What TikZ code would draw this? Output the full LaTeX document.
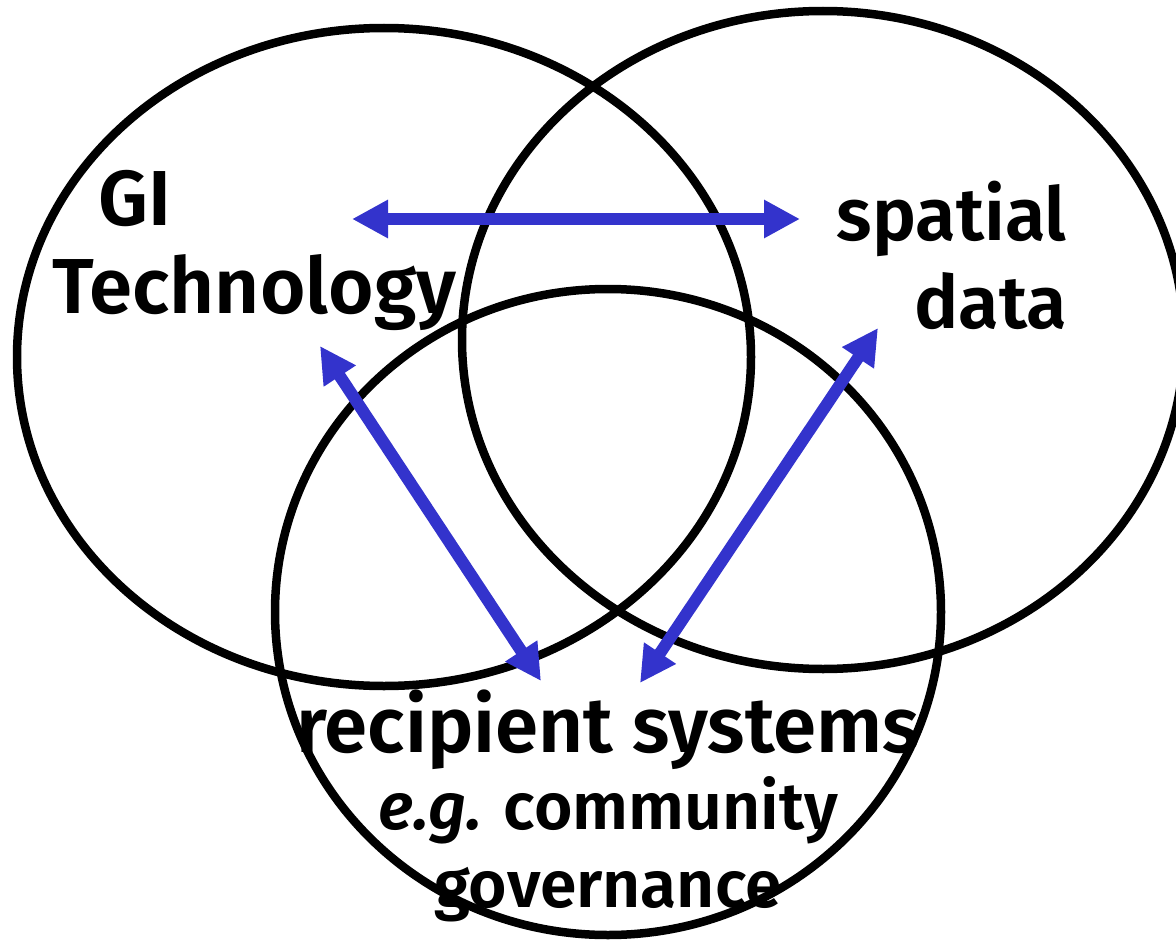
\documentclass[tikz,border=0pt]{standalone}
\usepackage{fontspec}
\setmainfont{Fira Sans}[BoldFont={Fira Sans SemiBold},BoldItalicFont={Fira Sans SemiBold Italic}]
\usetikzlibrary{arrows.meta}
\definecolor{arrowblue}{RGB}{51,51,204}
\tikzset{
  venn/.style={draw=black, line width=8.5pt},
  label/.style={font=\fontsize{78}{88}\selectfont\bfseries, inner sep=0pt},
  rlabel/.style={font=\fontsize{74}{88}\selectfont\bfseries, inner sep=0pt},
  sublabel/.style={font=\fontsize{66}{78}\selectfont\bfseries, inner sep=0pt},
  link/.style={draw=arrowblue, line width=12pt,
    {Triangle[length=36pt,width=36pt]}-{Triangle[length=36pt,width=36pt]}}
}
\begin{document}
\begin{tikzpicture}[x=1pt,y=-1pt]
\useasboundingbox (0,0) rectangle (1176,942);
\begin{scope}
\clip (0,0) rectangle (1176,942);
\draw[venn] (384,357) ellipse [x radius=367, y radius=329];
\draw[venn] (823,340) ellipse [x radius=361, y radius=329];
\draw[venn] (608,612) ellipse [x radius=333, y radius=323];
\end{scope}
\node[label, anchor=base west] (gi) at (98,225) {GI};
\node[label, anchor=base west] (tech) at (52,313) {Technology};
\node[rlabel, anchor=base east] (spatial) at (1067,240) {spatial};
\node[rlabel, anchor=base east] (data) at (1067,328) {data};
\node[label, anchor=base] (recip) at (608,752) {recipient systems};
\node[sublabel, anchor=base] (eg) at (608,829) {\textit{e.g.} community};
\node[sublabel, anchor=base] (gov) at (608,907) {governance};
\coordinate (h1) at (352,219);
\coordinate (h2) at (800,219);
\coordinate (l1) at (320,346);
\coordinate (l2) at (541,681);
\coordinate (r1) at (878,328);
\coordinate (r2) at (640,683);
\draw[link] (h1) -- (h2);
\draw[link] (l1) -- (l2);
\draw[link] (r1) -- (r2);
\end{tikzpicture}
\end{document}
